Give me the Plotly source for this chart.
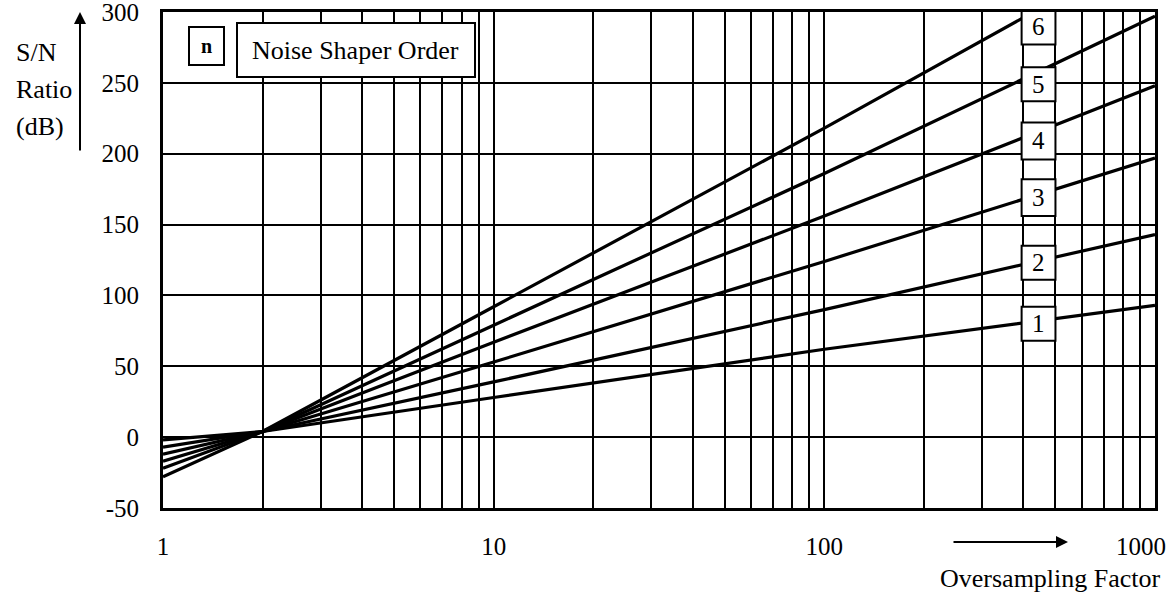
import math
import plotly.graph_objects as go

# ---- data ----
osr = [1, 2, 10, 100, 1000]
osr_order6 = [1, 2, 10, 100, 400]
order1 = [-2, 4, 28, 62, 93]
order2 = [-7, 4, 39, 90, 143]
order3 = [-12, 4, 53, 124, 197]
order4 = [-17, 4, 67, 156, 248]
order5 = [-22, 4, 79, 186, 297]
order6 = [-28, 4, 92, 218, 296]
orders = ["1", "2", "3", "4", "5", "6"]
label_box_lo = [68, 111, 156, 196, 237, 277]
label_box_hi = [92, 135, 182, 222, 261, 303]
x_ticks = [1, 10, 100, 1000]
x_ticktext = ["1", "10", "100", "1000"]
y_ticks = [-50, 0, 50, 100, 150, 200, 250, 300]
y_ticktext = ["-50", "0", "50", "100", "150", "200", "250", "300"]

FONT = "Liberation Serif, Times New Roman, serif"
W, H = 1174, 596
L, R, T, B = 163, 19, 12, 88
PW, PH = W - L - R, H - T - B


def px(x):
    return (x - L) / PW


def py(y):
    return (H - B - y) / PH


fig = go.Figure()
series = [
    (osr, order1), (osr, order2), (osr, order3),
    (osr, order4), (osr, order5), (osr_order6, order6),
]
for (xs, ys), name in zip(series, orders):
    fig.add_trace(go.Scatter(
        x=xs, y=ys, mode="lines", name=name,
        line=dict(color="black", width=3.2), showlegend=False,
    ))

shapes = []
annotations = []
# order label boxes
bx0, bx1 = 395, 500
for name, lo, hi in zip(orders, label_box_lo, label_box_hi):
    shapes.append(dict(type="rect", xref="x", yref="y", x0=bx0, x1=bx1,
                       y0=lo, y1=hi, fillcolor="white",
                       line=dict(color="black", width=2), layer="above"))
    annotations.append(dict(xref="x", yref="y", x=math.log10(math.sqrt(bx0 * bx1)),
                            y=(lo + hi) / 2, text=name, showarrow=False,
                            xanchor="center", yanchor="middle",
                            font=dict(family=FONT, size=25, color="black")))

# legend key boxes
shapes.append(dict(type="rect", xref="paper", yref="paper", x0=px(189), x1=px(224),
                   y0=py(65), y1=py(27), fillcolor="white",
                   line=dict(color="black", width=2), layer="above"))
shapes.append(dict(type="rect", xref="paper", yref="paper", x0=px(237), x1=px(475),
                   y0=py(77), y1=py(23), fillcolor="white",
                   line=dict(color="black", width=2), layer="above"))
annotations.append(dict(xref="paper", yref="paper", x=px(206.5), y=py(46), text="<b>n</b>",
                        xanchor="center", yanchor="middle",
                        showarrow=False, font=dict(family=FONT, size=20, color="black")))
annotations.append(dict(xref="paper", yref="paper", x=px(355), y=py(50),
                        text="Noise Shaper Order", showarrow=False,
                        xanchor="center", yanchor="middle",
                        font=dict(family=FONT, size=26, color="black")))

# y-axis title and arrow
for txt, yc in [("S/N", 52), ("Ratio", 90), ("(dB)", 127)]:
    annotations.append(dict(xref="paper", yref="paper", x=px(14), y=py(yc), text=txt,
                            xanchor="left", yanchor="middle", showarrow=False,
                            font=dict(family=FONT, size=26, color="black")))
annotations.append(dict(xref="paper", yref="paper", x=px(80), y=py(12), text="",
                        showarrow=True, ax=0, ay=140, arrowhead=2, arrowsize=1.2,
                        arrowwidth=2, arrowcolor="black"))

# last x tick label, pulled inside the page like in the reference
annotations.append(dict(xref="paper", yref="paper", x=px(1168), y=py(546),
                        text=x_ticktext[-1], showarrow=False,
                        xanchor="right", yanchor="middle",
                        font=dict(family=FONT, size=25, color="black")))
shown_ticktext = x_ticktext[:-1] + [""]

# x-axis title and arrow
annotations.append(dict(xref="paper", yref="paper", x=px(1068), y=py(542), text="",
                        showarrow=True, ax=-116, ay=0, arrowhead=2, arrowsize=1.2,
                        arrowwidth=2, arrowcolor="black"))
annotations.append(dict(xref="paper", yref="paper", x=px(1050), y=py(578),
                        text="Oversampling Factor", showarrow=False,
                        xanchor="center", yanchor="middle",
                        font=dict(family=FONT, size=26, color="black")))

fig.update_layout(
    width=W, height=H,
    margin=dict(l=L, r=R, t=T, b=B),
    paper_bgcolor="white", plot_bgcolor="white",
    font=dict(family=FONT, size=25, color="black"),
    shapes=shapes, annotations=annotations,
    xaxis=dict(
        type="log", range=[0, 3], automargin=False,
        tickvals=x_ticks, ticktext=shown_ticktext, ticklabeloverflow="allow",
        showgrid=True, gridcolor="black", gridwidth=2,
        minor=dict(dtick="D1", showgrid=True, gridcolor="black", gridwidth=2, ticks=""),
        showline=True, linecolor="black", linewidth=3, mirror=True,
        ticks="", ticklabelstandoff=14, zeroline=False,
        tickfont=dict(family=FONT, size=25),
    ),
    yaxis=dict(
        range=[-50, 300], automargin=False,
        tickvals=y_ticks, ticktext=y_ticktext, ticklabeloverflow="allow",
        showgrid=True, gridcolor="black", gridwidth=2,
        showline=True, linecolor="black", linewidth=3, mirror=True,
        ticks="", ticklabelstandoff=16, zeroline=False,
        tickfont=dict(family=FONT, size=25),
    ),
)

fig.write_html("out.html")
